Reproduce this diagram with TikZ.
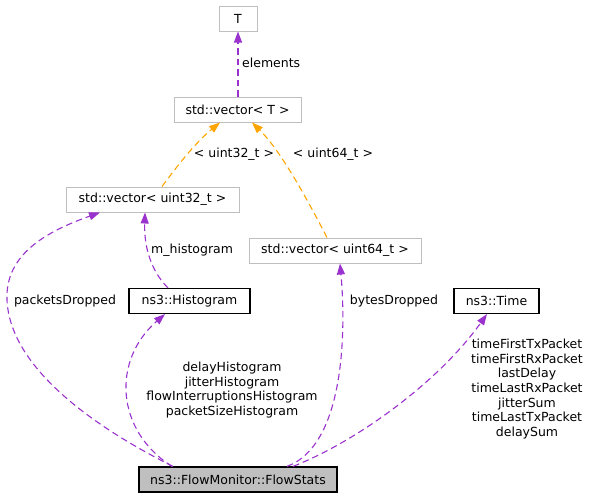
\documentclass[tikz,border=0pt]{standalone}
\usepackage{fontspec}
\setmainfont{DejaVu Sans}
\usetikzlibrary{arrows.meta}
\definecolor{usecol}{RGB}{154,50,205}
\definecolor{tplcol}{RGB}{255,165,0}
\definecolor{boxgray}{RGB}{191,191,191}
\tikzset{
  greybox/.style={draw=boxgray, line width=1pt, minimum height=25pt, inner sep=0pt, align=center},
  blackbox/.style={draw=black, line width=1.2pt, minimum height=25pt, inner sep=0pt, align=center},
  mainbox/.style={blackbox, fill=boxgray},
  useedge/.style={draw=usecol, line width=1.1pt, dash pattern=on 6.5pt off 4pt, -{Triangle[length=11pt,width=8pt]}},
  tpledge/.style={draw=tplcol, line width=1.1pt, dash pattern=on 6.5pt off 4pt, -{Triangle[length=11pt,width=8pt]}},
  lbl/.style={inner sep=0pt, align=center}
}
\begin{document}
\begin{tikzpicture}[x=1pt,y=-1pt, every node/.style={font=\fontsize{12.5}{14.6}\selectfont}]
\useasboundingbox (0,0) rectangle (590,499);
% nodes
\node[greybox, minimum width=38pt]  (T)     at (238,18.5)   {T};
\node[greybox, minimum width=127pt] (vecT)  at (237.5,109.5){std::vector< T >};
\node[greybox, minimum width=173pt] (vec32) at (152.5,199.5){std::vector< uint32\_t >};
\node[greybox, minimum width=172pt] (vec64) at (335,250.5)  {std::vector< uint64\_t >};
\node[blackbox, minimum width=121pt] (hist) at (189.5,301)  {ns3::Histogram};
\node[blackbox, minimum width=85pt]  (time) at (496.5,301)  {ns3::Time};
\node[mainbox, minimum width=198pt]  (flow) at (238,479.5)  {ns3::FlowMonitor::FlowStats};
% edges
\draw[useedge] (vecT.north -| T.south) -- (T.south);
\node[lbl, anchor=west] (lelem) at (242,63) {elements};

\draw[tpledge] ([xshift=9.5pt]vec32.north) .. controls (178,165) and (195,143) .. ([xshift=-17.5pt]vecT.south);
\node[lbl] (l32) at (234,154) {< uint32\_t >};

\draw[tpledge] ([xshift=-8pt]vec64.north) .. controls (305,195) and (280,150) .. ([xshift=14.5pt]vecT.south);
\node[lbl] (l64) at (333,154) {< uint64\_t >};

\draw[useedge] ([xshift=-21.5pt]hist.north) .. controls (150,270) and (144,245) .. ([xshift=-7.5pt]vec32.south);
\node[lbl, anchor=west] (lmh) at (151,250) {m\_histogram};

\draw[useedge] ([xshift=-65pt]flow.north) .. controls (100,430) and (10,370) .. (7,300)
   .. controls (5,255) and (45,232) .. ([xshift=-52.5pt]vec32.south);
\node[lbl] (lpd) at (65,300.7) {packetsDropped};

\draw[useedge] ([xshift=-66pt]flow.north) .. controls (115,430) and (112,360) .. ([xshift=-24.5pt]hist.south);
\node[lbl] (lhist) at (232,390) {delayHistogram\\jitterHistogram\\flowInterruptionsHistogram\\packetSizeHistogram};

\draw[useedge] ([xshift=49pt]flow.north) .. controls (345,445) and (346,330) .. ([xshift=5pt]vec64.south);
\node[lbl] (lbd) at (394,300.7) {bytesDropped};

\draw[useedge] ([xshift=55pt]flow.north) .. controls (360,440) and (440,380) .. ([xshift=-9.5pt]time.south);
\node[lbl] (ltime) at (527,389) {timeFirstTxPacket\\timeFirstRxPacket\\lastDelay\\timeLastRxPacket\\jitterSum\\timeLastTxPacket\\delaySum};
\end{tikzpicture}
\end{document}
